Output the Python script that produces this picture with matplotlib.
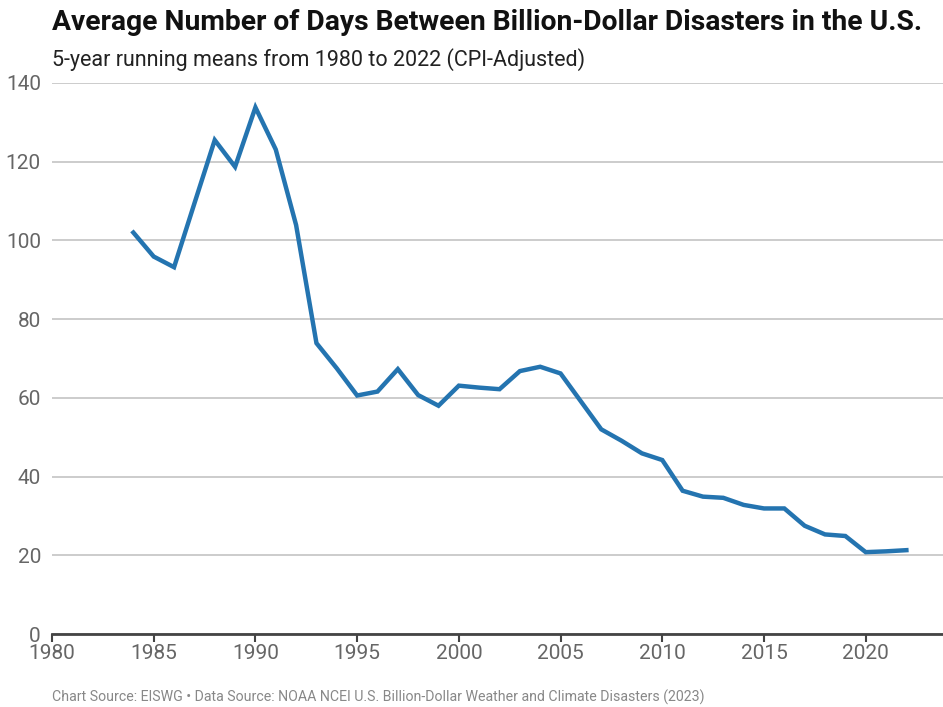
import matplotlib.pyplot as plt

# Data
years = list(range(1984, 2023))
days = [102.0, 95.9, 93.2, 109.4, 125.5, 118.7, 133.8, 123.1, 103.9, 73.9,
        67.5, 60.6, 61.6, 67.3, 60.7, 58.0, 63.1, 62.6, 62.2, 66.8,
        67.9, 66.2, 59.1, 52.0, 49.1, 45.9, 44.2, 36.4, 34.9, 34.6,
        32.8, 31.9, 31.9, 27.5, 25.3, 24.9, 20.8, 21.0, 21.3]
xticks = [1980, 1985, 1990, 1995, 2000, 2005, 2010, 2015, 2020]
yticks = [0, 20, 40, 60, 80, 100, 120, 140]

plt.rcParams['font.family'] = ['Roboto', 'DejaVu Sans']

fig = plt.figure(figsize=(9.43, 7.07), dpi=100)
ax = fig.add_axes([52/943, 73/707, 1 - 52/943, 551/707])

ax.plot(years, days, color='#2474b0', linewidth=3.2, solid_joinstyle='miter', zorder=3)

ax.set_xlim(1980, 2023.8)
ax.set_ylim(0, 140)
ax.set_xticks(xticks)
ax.set_yticks(yticks)
ax.grid(axis='y', color='#c4c4c4', linewidth=1.2)
ax.set_axisbelow(True)

for s in ['left', 'right', 'top']:
    ax.spines[s].set_visible(False)
ax.spines['bottom'].set_color('#444444')
ax.spines['bottom'].set_linewidth(2)
ax.spines['bottom'].set_zorder(4)

ax.tick_params(axis='x', length=6, width=1.5, color='#444444', labelsize=15,
               labelcolor='#666666', pad=1)
ax.tick_params(axis='y', length=0, labelsize=15, labelcolor='#666666', pad=8)

fig.text(52/943, 1 - 23/707, 'Average Number of Days Between Billion-Dollar Disasters in the U.S.',
         fontsize=20.3, fontweight='bold', color='#111111', va='center', ha='left')
fig.text(52/943, 1 - 60/707, '5-year running means from 1980 to 2022 (CPI-Adjusted)',
         fontsize=15.5, color='#222222', va='center', ha='left')
fig.text(52/943, 1 - 697/707,
         'Chart Source: EISWG \u2022 Data Source: NOAA NCEI U.S. Billion-Dollar Weather and Climate Disasters (2023)',
         fontsize=10.2, color='#888888', va='center', ha='left')

fig.savefig('out.png', dpi=100)
